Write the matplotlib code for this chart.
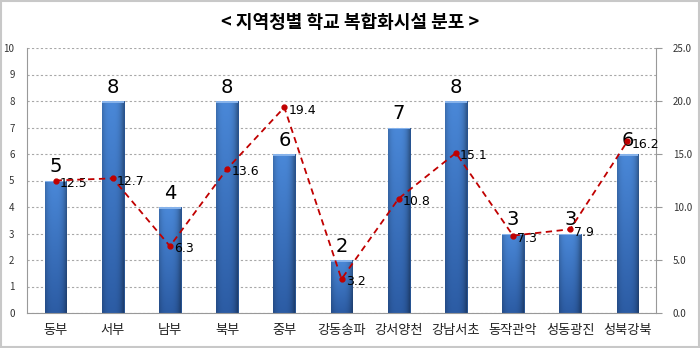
import matplotlib
matplotlib.use("Agg")
import matplotlib.pyplot as plt
import numpy as np
from matplotlib.patches import Rectangle

plt.rcParams['font.family'] = ['Noto Sans CJK KR', 'DejaVu Sans']

categories = ['동부', '서부', '남부', '북부', '중부', '강동송파', '강서양천', '강남서초', '동작관악', '성동광진', '성북강북']
bar_values = [5, 8, 4, 8, 6, 2, 7, 8, 3, 3, 6]
line_values = [12.5, 12.7, 6.3, 13.6, 19.4, 3.2, 10.8, 15.1, 7.3, 7.9, 16.2]
left_ticks = list(range(0, 11))
right_ticks = [0, 5, 10, 15, 20, 25]
title = '< 지역청별 학교 복합화시설 분포 >'

fig = plt.figure(figsize=(7.0, 3.48), dpi=100)
fig.patch.set_facecolor('white')
fig.patches.append(Rectangle((0.002, 0.003), 0.996, 0.994, transform=fig.transFigure,
                             fill=False, edgecolor='#c8c8c8', linewidth=1.5))

ax = fig.add_axes([27/700, 35/348, 629/700, 265/348])
x = np.arange(len(categories))
bars = ax.bar(x, bar_values, width=0.38, color='#3a70c0', edgecolor='#24508f', linewidth=0.7, zorder=2)

# 2D shading: lighter top, darker bottom, darker edges
top_c = np.array([0x4a, 0x88, 0xd8]) / 255
bot_c = np.array([0x2c, 0x5c, 0xa4]) / 255
nx, ny = 40, 100
hx = np.linspace(0, 1, nx)
edge = 1 - 0.35 * (np.abs(hx - 0.45) / 0.55) ** 3
for b in bars:
    x0, w, h = b.get_x(), b.get_width(), b.get_height()
    t = np.linspace(0, 1, ny)[:, None, None]  # 0 at top row
    img = (top_c * (1 - t) + bot_c * t) * edge[None, :, None]
    im = ax.imshow(np.clip(img, 0, 1), extent=[x0, x0 + w, 0, h], aspect='auto', zorder=2.1,
                   interpolation='bilinear')
    im.set_clip_path(b)
    ax.add_patch(Rectangle((x0, h - 0.06), w, 0.06, color='#86b2ea', zorder=2.2, linewidth=0))

ax.set_xlim(-0.5, len(categories) - 0.5)
ax.set_ylim(0, 10)
ax.set_yticks(left_ticks)
ax.set_xticks(x)
ax.set_xticklabels(categories, fontsize=9.5, color='#222222')
ax.tick_params(axis='x', length=0, pad=8)
ax.tick_params(axis='y', length=0, labelsize=7, colors='#333333', pad=9)
ax.grid(axis='y', linestyle=(0, (2, 2)), color='#a8a8a8', linewidth=0.8, zorder=0)
ax.set_axisbelow(True)
for s in ['top', 'right']:
    ax.spines[s].set_visible(False)
ax.spines['left'].set_color('#999999')
ax.spines['bottom'].set_color('#999999')

for xi, v in zip(x, bar_values):
    ax.annotate(str(v), (xi, v), xytext=(0, 3), textcoords='offset points',
                ha='center', va='bottom', fontsize=14, color='black', zorder=5,
                family=['DejaVu Sans'])

ax2 = ax.twinx()
ax2.set_ylim(0, 25)
ax2.set_yticks(right_ticks)
ax2.set_yticklabels([f'{t:.1f}' for t in right_ticks])
ax2.tick_params(axis='y', length=4, direction='out', labelsize=7, colors='#333333', color='#999999', pad=8)
for s in ['top', 'left', 'bottom']:
    ax2.spines[s].set_visible(False)
ax2.spines['right'].set_color('#999999')
ax2.plot(x, line_values, linestyle=(0, (3.5, 2.5)), color='#c00000', linewidth=1.3,
         marker='o', markersize=3.5, markerfacecolor='#c00000', zorder=4)
for xi, v in zip(x, line_values):
    ax2.annotate(f'{v:.1f}', (xi, v), xytext=(3, -2), textcoords='offset points',
                 ha='left', va='center', fontsize=9, color='black', family=['DejaVu Sans'])

fig.text(0.5, 1 - 22/348, title, ha='center', va='center', fontsize=13, fontweight='bold')

fig.savefig('out.png', dpi=100)
